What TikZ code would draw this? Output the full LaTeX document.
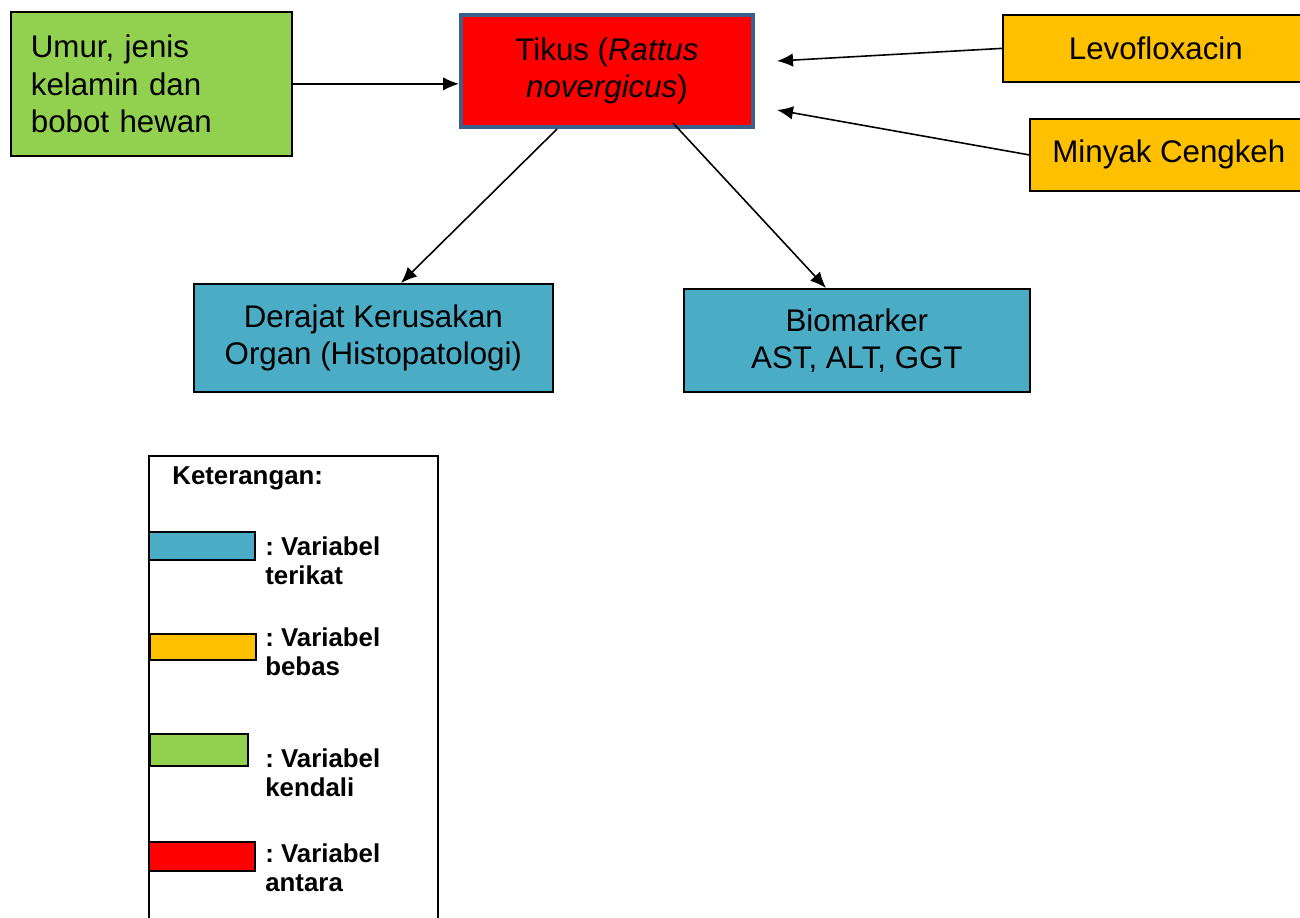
\documentclass[tikz,border=0pt]{standalone}
\usepackage{fontspec}
\setmainfont{Liberation Sans}
\usetikzlibrary{positioning,calc,arrows.meta}
\definecolor{hijau}{HTML}{92D050}
\definecolor{oranye}{HTML}{FFC000}
\definecolor{biru}{HTML}{4BACC6}
\definecolor{tepi}{HTML}{3A5F8B}
\frenchspacing
\tikzset{
	kotak/.style={draw,line width=1pt,inner sep=0pt,anchor=north west},
	isi/.style={font=\fontsize{17.8}{21.2}\selectfont,align=center},
	ket/.style={font=\fontsize{14.7}{16.5}\selectfont\bfseries,align=left,inner sep=0pt,anchor=north west},
	panah/.style={-{Latex[length=0.32cm,width=0.27cm]},line width=0.9pt},
}
\begin{document}
\begin{tikzpicture}[x=0.02cm,y=-0.02cm]
		\useasboundingbox (0,0) rectangle (1300,917);
		% kotak utama
		\node[kotak,isi,fill=hijau,minimum width=5.62cm,minimum height=2.88cm,align=left,text width=4.82cm] (umur) at (10,11) {Umur, jenis\\kelamin dan\\bobot hewan\\[-0.2cm]};
		\node[kotak,isi,fill=red,draw=tepi,line width=2.3pt,minimum width=5.84cm,minimum height=2.24cm] (tikus) at (459,13) {Tikus (\textit{Rattus}\\\textit{novergicus})};
		\node[kotak,isi,fill=oranye,minimum width=6.12cm,minimum height=1.34cm] (levo) at (1002,14) {Levofloxacin};
		\node[kotak,isi,fill=oranye,minimum width=5.56cm,minimum height=1.44cm] (minyak) at (1029,118) {Minyak Cengkeh};
		\node[kotak,isi,fill=biru,minimum width=7.18cm,minimum height=2.16cm] (derajat) at (193,283) {Derajat Kerusakan\\Organ (Histopatologi)};
		\node[kotak,isi,fill=biru,minimum width=6.92cm,minimum height=2.06cm] (bio) at (683,288) {Biomarker\\AST, ALT, GGT};
		% panah
		\coordinate (ujung1) at (777,61);
		\coordinate (ujung2) at (777,110);
		\draw[panah] (umur.east) -- (umur.east -| tikus.west);
		\draw[panah] (levo.west) -- (ujung1);
		\draw[panah] (minyak.west) -- (ujung2);
		\draw[panah] ($(tikus.south west)+(98,0)$) -- ($(derajat.north west)+(208,0)$);
		\draw[panah] ($(tikus.south west)+(214,-6)$) -- ($(bio.north west)+(143,0)$);
		% keterangan
		\node[kotak,minimum width=5.78cm,minimum height=9.6cm] (legenda) at (148,455) {};
		\node[ket] (judul) at (172,466) {Keterangan:};
		\node[kotak,fill=biru,minimum width=2.12cm,minimum height=0.56cm] (k1) at (148,531) {};
		\node[kotak,fill=oranye,minimum width=2.12cm,minimum height=0.52cm] (k2) at (149,633) {};
		\node[kotak,fill=hijau,minimum width=1.96cm,minimum height=0.64cm] (k3) at (149,733) {};
		\node[kotak,fill=red,minimum width=2.12cm,minimum height=0.58cm] (k4) at (148,841) {};
		\node[ket] (t1) at (265,536) {: Variabel\\terikat};
		\node[ket] (t2) at (265,627) {: Variabel\\bebas};
		\node[ket] (t3) at (265,748) {: Variabel\\kendali};
		\node[ket] (t4) at (265,843) {: Variabel\\antara};
	\end{tikzpicture}
\end{document}
